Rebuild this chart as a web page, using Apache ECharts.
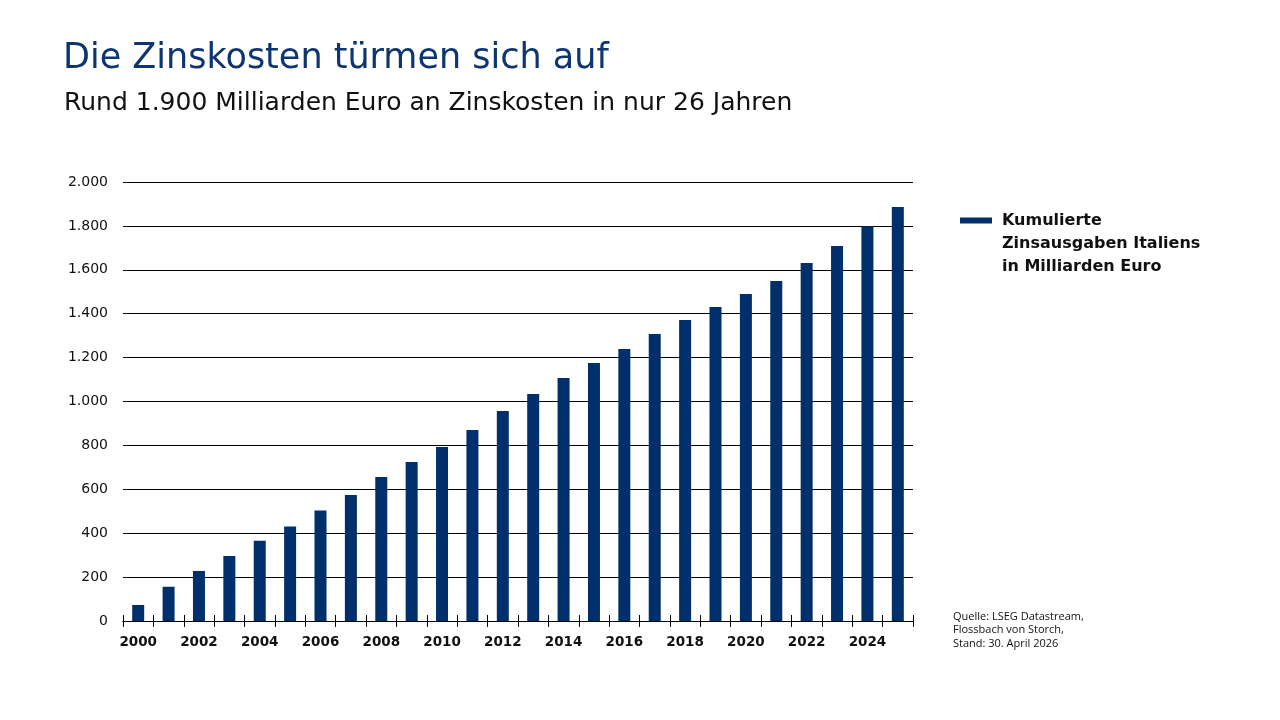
<!DOCTYPE html>
<html>
<head>
<meta charset="utf-8">
<script src="https://cdn.jsdelivr.net/npm/echarts@6/dist/echarts.min.js"></script>
<style>
  html, body { margin: 0; padding: 0; background: #fff; }
  #chart { width: 1280px; height: 720px; }
</style>
</head>
<body>
<div id="chart"></div>
<script>
// Daten
var years = ['2000', '2001', '2002', '2003', '2004', '2005', '2006', '2007', '2008', '2009', '2010', '2011', '2012',
  '2013', '2014', '2015', '2016', '2017', '2018', '2019', '2020', '2021', '2022', '2023', '2024', '2025'];
var cumulatedInterest = [73, 156, 228, 296, 366, 430, 503, 574, 656, 724, 793, 870, 957,
  1034, 1107, 1175, 1239, 1307, 1371, 1431, 1490, 1549, 1631, 1708, 1798, 1886];
var yMin = 0;
var yMax = 2000;
var yStep = 200;

var seriesName = 'Kumulierte\nZinsausgaben Italiens\nin Milliarden Euro';
var titleText = 'Die Zinskosten türmen sich auf';
var subtitleText = 'Rund 1.900 Milliarden Euro an Zinskosten in nur 26 Jahren';
var sourceText = 'Quelle: LSEG Datastream,\nFlossbach von Storch,\nStand: 30. April 2026';

var navy = '#00306b';
var font = '"DejaVu Sans", "Open Sans", sans-serif';
var smallFont = '"Open Sans", "Noto Sans", sans-serif';

// Tausenderpunkt
function formatNumber(v) {
  return String(v).replace(/\B(?=(\d{3})+(?!\d))/g, '.');
}

var chart = echarts.init(document.getElementById('chart'), null, { renderer: 'canvas' });

var option = {
  animation: false,
  textStyle: { fontFamily: font },
  title: [
    {
      text: titleText,
      left: 58,
      top: 36,
      textStyle: { color: '#0d3570', fontSize: 35, fontWeight: 'normal', fontFamily: font }
    },
    {
      text: subtitleText,
      left: 59,
      top: 86,
      textStyle: { color: '#111', fontSize: 25, fontWeight: 'normal', fontFamily: font }
    }
  ],
  // Legende (Leerzeilen davor, damit das Symbol auf Hoehe der ersten Zeile steht)
  legend: {
    left: 955,
    top: 158,
    itemWidth: 32,
    itemHeight: 6,
    itemGap: 0,
    icon: 'rect',
    formatter: function (name) {
      return '\n\n' + name;
    },
    textStyle: {
      color: '#111',
      fontSize: 16,
      fontWeight: 'bold',
      lineHeight: 23,
      padding: [0, 0, 0, 5],
      fontFamily: font
    },
    data: [{ name: seriesName }]
  },
  grid: {
    left: 123,
    right: 367,
    top: 182,
    bottom: 99,
    containLabel: false
  },
  xAxis: [
    {
      type: 'category',
      data: years,
      position: 'bottom',
      boundaryGap: true,
      axisLine: { show: true, lineStyle: { color: '#000', width: 1 } },
      axisTick: { show: true, interval: 0, inside: false, length: 6, lineStyle: { color: '#000', width: 1 } },
      axisLabel: {
        show: true,
        interval: 1,
        margin: 14,
        color: '#111',
        fontSize: 13.5,
        fontWeight: 'bold',
        fontFamily: font
      },
      splitLine: { show: false }
    },
    {
      // zweite Achse nur fuer die Ticks nach innen
      type: 'category',
      data: years,
      position: 'bottom',
      gridIndex: 0,
      axisLine: { show: true, lineStyle: { color: '#000', width: 1 } },
      axisTick: { show: true, interval: 0, inside: true, length: 6, lineStyle: { color: '#000', width: 1 } },
      axisLabel: { show: false },
      splitLine: { show: false }
    }
  ],
  yAxis: {
    type: 'value',
    min: yMin,
    max: yMax,
    interval: yStep,
    axisLine: { show: false },
    axisTick: { show: false },
    axisLabel: {
      margin: 15,
      color: '#111',
      fontSize: 14,
      fontFamily: font,
      formatter: formatNumber
    },
    splitLine: { show: true, lineStyle: { color: '#000', width: 1 } }
  },
  series: [
    {
      name: seriesName,
      type: 'bar',
      xAxisIndex: 0,
      barWidth: 12,
      itemStyle: { color: navy },
      data: cumulatedInterest
    }
  ],
  // Quelle
  graphic: [
    {
      type: 'text',
      left: 953,
      top: 610,
      style: {
        text: sourceText,
        fill: '#111',
        fontSize: 11,
        lineHeight: 13.5,
        fontFamily: smallFont
      }
    }
  ]
};

chart.setOption(option);
</script>
</body>
</html>
